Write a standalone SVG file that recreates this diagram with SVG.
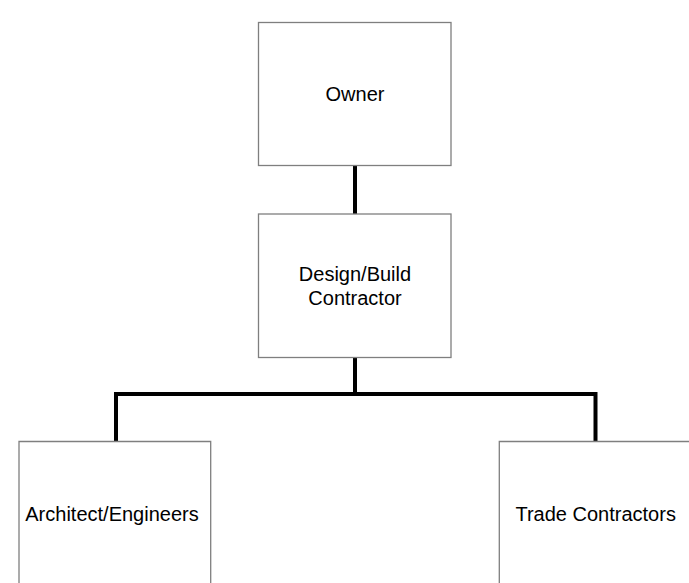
<svg xmlns="http://www.w3.org/2000/svg" width="689" height="583" viewBox="0 0 689 583">
  <style>
    .box { fill: #ffffff; stroke: #7f7f7f; stroke-width: 1.3; }
    .label { font-family: "Liberation Sans", Arial, sans-serif; font-size: 20px; fill: #000000; text-anchor: middle; }
    .link { fill: none; stroke: #000000; stroke-width: 4; }
  </style>
  <rect width="689" height="583" fill="#ffffff"/>

  <!-- connectors -->
  <g id="connectors">
    <line class="link" x1="355" y1="165.5" x2="355" y2="214"/>
    <line class="link" x1="355" y1="357.5" x2="355" y2="394"/>
    <polyline class="link" points="116,441.5 116,394 595.5,394 595.5,441.5"/>
  </g>

  <g id="owner">
    <rect class="box" x="258.5" y="22.5" width="192.5" height="143"/>
    <text class="label" x="355" y="100.7">Owner</text>
  </g>

  <g id="design-build-contractor">
    <rect class="box" x="258.5" y="214" width="192.5" height="143.5"/>
    <text class="label" x="355" y="280.7">Design/Build</text>
    <text class="label" x="355" y="305.2">Contractor</text>
  </g>

  <g id="architect-engineers">
    <path class="box" d="M19,583 V441.5 H210.7 V583"/>
    <text class="label" x="112" y="521.2">Architect/Engineers</text>
  </g>

  <g id="trade-contractors">
    <path class="box" d="M499.3,583 V441.5 H690"/>
    <text class="label" x="595.7" y="521.2">Trade Contractors</text>
  </g>
</svg>
